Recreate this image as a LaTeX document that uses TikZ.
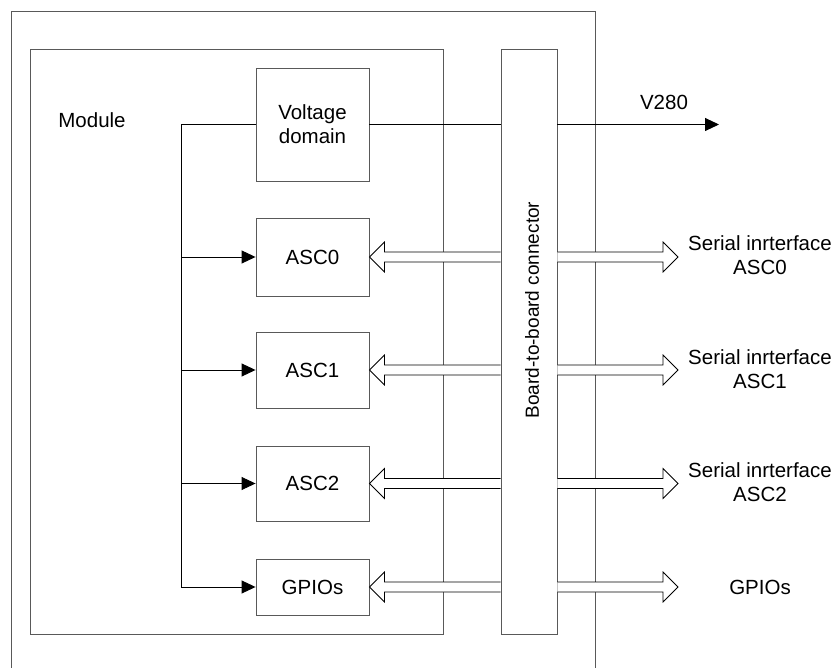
\documentclass[tikz,border=0pt]{standalone}
\usepackage{fontspec}
\setmainfont{Liberation Sans}
\usetikzlibrary{arrows.meta,calc}
\tikzset{
  box/.style={draw=black!65, line width=0.9pt, inner sep=0pt},
  txt/.style={font=\fontsize{20.5}{24}\selectfont, align=center, inner sep=0pt},
  wire/.style={draw=black, line width=0.9pt},
  tip/.style={-{Triangle[length=14pt,width=13pt]}},
  fat/.style={draw=black, line width=0.8pt, line join=miter, fill=white},
}
% hollow wide arrow from #1 to #2 (tip at #2); #3 = +1 (right) or -1 (left)
\newcommand{\fatarrow}[3]{%
  \draw[fat] let \p1=(#1), \p2=(#2) in
    (\x1,\y1+5pt) -- (\x2-#3*15pt,\y1+5pt) -- (\x2-#3*15pt,\y1+15pt) --
    (\x2,\y1) -- (\x2-#3*15pt,\y1-15pt) -- (\x2-#3*15pt,\y1-5pt) -- (\x1,\y1-5pt);}
\begin{document}
\begin{tikzpicture}[x=1pt,y=-1pt]
\useasboundingbox (0,0) rectangle (839,668);
% outer frame (open at the bottom)
\draw[box] (11,668) -- (11,11) -- (595,11) -- (595,668);
% module and connector
\node[box, minimum width=413pt, minimum height=585pt] (module) at (236.5,341.5) {};
\node[txt] (modlbl) at (92,120) {Module};
\node[box, minimum width=56pt, minimum height=585pt] (conn) at (529,341.5) {};
\node[txt, rotate=90, font=\fontsize{19}{22}\selectfont] (connlbl) at (532,310) {Board-to-board connector};
% inner blocks
\node[box, txt, minimum width=113pt, minimum height=113pt] (vd) at (312.5,124.5) {Voltage\\domain};
\node[box, txt, minimum width=113pt, minimum height=78pt] (a0) at (312.5,257) {ASC0};
\node[box, txt, minimum width=113pt, minimum height=76pt] (a1) at (312.5,370) {ASC1};
\node[box, txt, minimum width=113pt, minimum height=75pt] (a2) at (312.5,483.5) {ASC2};
\node[box, txt, minimum width=113pt, minimum height=56pt] (gp) at (312.5,587) {GPIOs};
% supply bus
\coordinate (bustop) at (181,124.5);
\coordinate (busbot) at (181,587);
\draw[wire] (vd.west) -- (bustop) -- (busbot);
\draw[wire,tip] (bustop |- a0.west) -- (a0.west);
\draw[wire,tip] (bustop |- a1.west) -- (a1.west);
\draw[wire,tip] (bustop |- a2.west) -- (a2.west);
\draw[wire,tip] (busbot) -- (gp.west);
% V280 output
\coordinate (vend) at (719,124.5);
\draw[wire] (vd.east) -- (vd.east -| conn.west);
\draw[wire,tip] (vd.east -| conn.east) -- (vend);
\node[txt] (v280) at (664,102) {V280};
% hollow arrows
\coordinate (r0) at (678,257);
\coordinate (r1) at (678,370);
\coordinate (r2) at (678,483.5);
\coordinate (r3) at (678,587);
\fatarrow{a0.east -| conn.west}{a0.east}{-1}
\fatarrow{a1.east -| conn.west}{a1.east}{-1}
\fatarrow{a2.east -| conn.west}{a2.east}{-1}
\fatarrow{gp.east -| conn.west}{gp.east}{-1}
\fatarrow{r0 -| conn.east}{r0}{1}
\fatarrow{r1 -| conn.east}{r1}{1}
\fatarrow{r2 -| conn.east}{r2}{1}
\fatarrow{r3 -| conn.east}{r3}{1}
% external labels
\node[txt] (s0) at (760,255) {Serial inrterface\\ASC0};
\node[txt] (s1) at (760,369) {Serial inrterface\\ASC1};
\node[txt] (s2) at (760,482) {Serial inrterface\\ASC2};
\node[txt] (s3) at (760,587) {GPIOs};
\end{tikzpicture}
\end{document}
